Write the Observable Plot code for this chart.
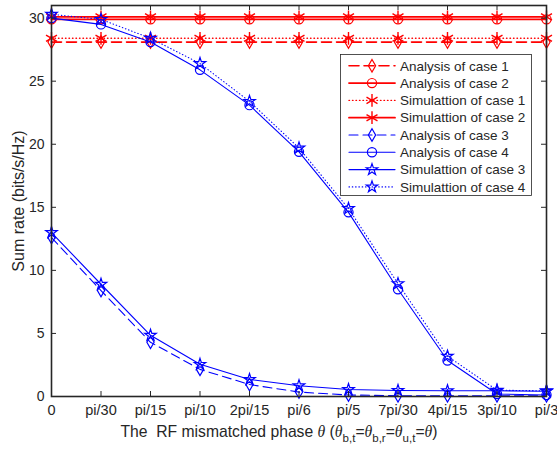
<!DOCTYPE html>
<html>
<head>
<meta charset="utf-8">
<script src="https://cdn.jsdelivr.net/npm/d3@7"></script>
<script src="https://cdn.jsdelivr.net/npm/@observablehq/plot@0.6"></script>
<style>
  html, body { margin: 0; padding: 0; background: #fff; }
  svg { display: block; }
</style>
</head>
<body>
<div id="chart"></div>
<script>
// ---- data ----
const thetaTickLabels = ["0","pi/30","pi/15","pi/10","2pi/15","pi/6","pi/5","7pi/30","4pi/15","3pi/10","pi/3"];
const theta = [0,1,2,3,4,5,6,7,8,9,10]; // in units of pi/30
const yTicks = [0,5,10,15,20,25,30];

const analysisCase1 = [28.1,28.1,28.1,28.1,28.1,28.1,28.1,28.1,28.1,28.1,28.1];
const analysisCase2 = [29.9,29.9,29.9,29.9,29.9,29.9,29.9,29.9,29.9,29.9,29.9];
const simulationCase1 = [28.4,28.4,28.4,28.4,28.4,28.4,28.4,28.4,28.4,28.4,28.4];
const simulationCase2 = [30.1,30.1,30.1,30.1,30.1,30.1,30.1,30.1,30.1,30.1,30.1];
const analysisCase3 = [12.6,8.4,4.3,2.15,0.95,0.35,0.12,0.06,0.05,0.05,0.05];
const analysisCase4 = [30.0,29.5,28.1,25.9,23.1,19.4,14.6,8.5,2.85,0.2,0.12];
const simulationCase3 = [13.0,8.9,4.85,2.55,1.35,0.85,0.55,0.48,0.45,0.45,0.42];
const simulationCase4 = [30.3,29.9,28.4,26.4,23.4,19.7,14.9,8.95,3.2,0.5,0.45];

const seriesNames = ["Analysis of case 1","Analysis of case 2","Simulattion of case 1","Simulattion of case 2",
                     "Analysis of case 3","Analysis of case 4","Simulattion of case 3","Simulattion of case 4"];
const seriesValues = [analysisCase1, analysisCase2, simulationCase1, simulationCase2,
                      analysisCase3, analysisCase4, simulationCase3, simulationCase4];

// ---- styles ----
const RED = "#FF0000", BLUE = "#0000FF", INK = "#262626";
const styles = [
  {color: RED,  dash: "10,5", symbol: "diamond",  r: 3.8, lw: 1.6},
  {color: RED,  dash: null,   symbol: "circle",   r: 4.6, lw: 1.8},
  {color: RED,  dash: "0.5,3", symbol: "asterisk", r: 6,  lw: 1.4},
  {color: RED,  dash: null,   symbol: "asterisk", r: 6,   lw: 1.8},
  {color: BLUE, dash: "9,5",  symbol: "diamond",  r: 3.8, lw: 1.1},
  {color: BLUE, dash: null,   symbol: "circle",   r: 4.6, lw: 1.1},
  {color: BLUE, dash: null,   symbol: "star",     r: 3.6, lw: 1.1},
  {color: BLUE, dash: "0.5,2.8", symbol: "star",  r: 3.6, lw: 1.1}
];

const FONT = "'Liberation Sans', Arial, Helvetica, sans-serif";

const marks = [];
seriesValues.forEach((vals, k) => {
  const st = styles[k];
  const rows = theta.map((t, i) => ({t, v: vals[i]}));
  marks.push(Plot.line(rows, {x: "t", y: "v", stroke: st.color, strokeWidth: st.lw,
    strokeDasharray: st.dash ?? undefined, strokeLinecap: "round"}));
  marks.push(Plot.dot(rows, {x: "t", y: "v", symbol: st.symbol, r: st.r, stroke: st.color,
    fill: "none", strokeWidth: st.symbol === "asterisk" ? 1.4 : 1.2}));
});

const plotW = 557 - 51 - 11, plotH = 449 - 5 - 53;

const chart = Plot.plot({
  width: 557,
  height: 449,
  marginLeft: 51,
  marginRight: 11,
  marginTop: 5,
  marginBottom: 53,
  x: {domain: [0, 10]},
  y: {domain: [0, 31]},
  style: {fontFamily: FONT, fontSize: "14px", color: INK, background: "#fff"},
  marks: [
    ...marks,
    Plot.tickX(theta, {x: d => d, insetTop: plotH - 5, stroke: INK, strokeWidth: 1}),
    Plot.tickX(theta, {x: d => d, insetBottom: plotH - 5, stroke: INK, strokeWidth: 1}),
    Plot.tickY(yTicks, {y: d => d, insetRight: plotW - 5, stroke: INK, strokeWidth: 1}),
    Plot.tickY(yTicks, {y: d => d, insetLeft: plotW - 5, stroke: INK, strokeWidth: 1}),
    Plot.frame({stroke: INK, strokeWidth: 1.6}),
    Plot.axisX(theta, {tickSize: 0, tickPadding: 8, tickFormat: i => thetaTickLabels[i], label: null, fill: INK, fontSize: 14.5}),
    Plot.axisY(yTicks, {tickSize: 0, tickPadding: 7, label: null, fill: INK, fontSize: 14}),
    Plot.text(["Sum rate (bits/s/Hz)"], {frameAnchor: "left", dx: -33, rotate: -90, text: d => d,
      fontSize: 16, fill: INK, textAnchor: "middle"})
  ]
});

document.getElementById("chart").appendChild(chart);

// ---- x-axis label with italic theta and subscripts ----
const svg = d3.select(chart);
const xl = svg.append("text")
  .attr("x", 279).attr("y", 437)
  .attr("text-anchor", "middle")
  .attr("fill", INK)
  .style("font-family", FONT)
  .style("font-size", "15.7px")
  .style("white-space", "pre");
const th = () => xl.append("tspan").style("font-family", "'Liberation Serif', 'Times New Roman', serif").style("font-style", "italic").text("θ");
const sub = (s) => { xl.append("tspan").attr("dy", 5).style("font-size", "11.5px").text(s); };
const unsub = (s) => { xl.append("tspan").attr("dy", -5).text(s); };
xl.append("tspan").text("The  RF mismatched phase ");
th();
xl.append("tspan").text(" (");
th(); sub("b,t"); unsub("=");
th(); sub("b,r"); unsub("=");
th(); sub("u,t"); unsub("=");
th();
xl.append("tspan").text(")");

// ---- legend ----
const symbolMap = {diamond: d3.symbolDiamond, circle: d3.symbolCircle, asterisk: d3.symbolAsterisk, star: d3.symbolStar};
const lg = svg.append("g");
lg.append("rect").attr("x", 340.5).attr("y", 54.5).attr("width", 191).attr("height", 141)
  .attr("fill", "#fff").attr("stroke", INK).attr("stroke-width", 0.8);
seriesNames.forEach((name, k) => {
  const st = styles[k];
  const y = 65.8 + k * 17.3;
  lg.append("line").attr("x1", 349).attr("x2", 395).attr("y1", y).attr("y2", y)
    .attr("stroke", st.color).attr("stroke-width", st.lw)
    .attr("stroke-dasharray", st.dash).attr("stroke-linecap", "round");
  lg.append("path").attr("transform", `translate(372,${y})`)
    .attr("d", d3.symbol(symbolMap[st.symbol], Math.PI * st.r * st.r)())
    .attr("fill", "none").attr("stroke", st.color).attr("stroke-width", st.symbol === "asterisk" ? 1.4 : 1.2);
  lg.append("text").attr("x", 400).attr("y", y).attr("dy", "0.35em")
    .attr("text-anchor", "start")
    .attr("fill", INK).style("font-family", FONT).style("font-size", "13.5px").text(name);
});
</script>
</body>
</html>
